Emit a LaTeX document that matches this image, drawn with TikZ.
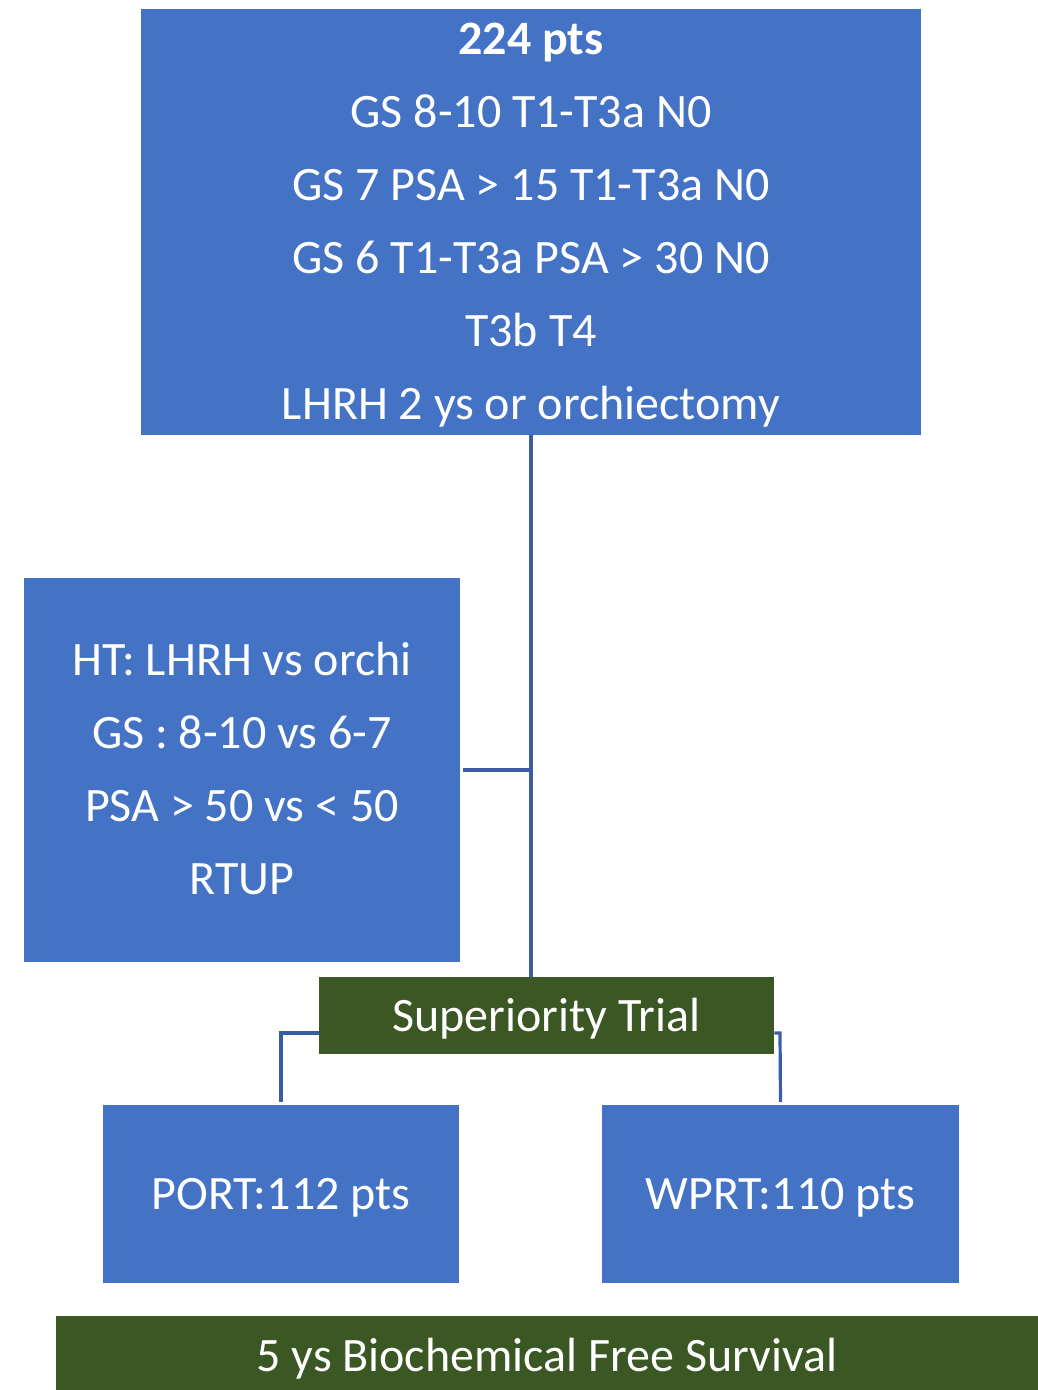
\documentclass[tikz,border=0pt]{standalone}
\usepackage{fontspec}
\setmainfont{Carlito}
\definecolor{boxblue}{HTML}{4472C4}
\definecolor{boxgreen}{HTML}{3A5724}
\definecolor{lineblue}{HTML}{3A5DA8}
\begin{document}
\begin{tikzpicture}[x=0.75pt,y=-0.75pt,
  bluebox/.style={fill=boxblue,draw=none,inner sep=0pt},
  greenbox/.style={fill=boxgreen,draw=none,inner sep=0pt},
  txt/.style={inner sep=0pt,text=white,align=center,
    font=\fontsize{36}{54.75}\selectfont},
  conn/.style={draw=lineblue,line width=2.4pt}]
\useasboundingbox (0,0) rectangle (1038,1390);
\node[bluebox,minimum width=780*0.75pt,minimum height=426*0.75pt] (top) at (531,222) {};
\node[txt,yshift=-2.6pt] (toptxt) at (top)
  {\textbf{224 pts}\\GS 8-10 T1-T3a N0\\GS 7 PSA > 15 T1-T3a N0\\GS 6 T1-T3a PSA > 30 N0\\T3b T4\\LHRH 2 ys or orchiectomy};
\node[bluebox,minimum width=436*0.75pt,minimum height=384*0.75pt] (strat) at (242,770) {};
\node[txt,yshift=1.4pt] (strattxt) at (strat)
  {HT: LHRH vs orchi\\GS : 8-10 vs 6-7\\PSA > 50 vs < 50\\RTUP};
\node[greenbox,minimum width=455*0.75pt,minimum height=77*0.75pt] (sup) at (546.5,1015.5) {};
\node[txt,yshift=-2.4pt] (suptxt) at (sup) {Superiority Trial};
\node[bluebox,minimum width=356*0.75pt,minimum height=178*0.75pt] (port) at (281,1194) {};
\node[txt,yshift=-3pt] (porttxt) at (port) {PORT:112 pts};
\node[bluebox,minimum width=357*0.75pt,minimum height=178*0.75pt] (wprt) at (780.5,1194) {};
\node[txt,yshift=-3pt] (wprttxt) at (wprt) {WPRT:110 pts};
\node[greenbox,minimum width=982*0.75pt,minimum height=74*0.75pt] (bfs) at (547,1353) {};
\node[txt,yshift=-4.5pt] (bfstxt) at (bfs) {5 ys Biochemical Free Survival};
\coordinate (j) at (531,770);
\coordinate (lc) at (281,1033);
\coordinate (rc) at (780,1033);
\draw[conn] (top.south -| j) -- (sup.north -| j);
\draw[conn] (463,770) -- (j);
\draw[conn] (sup.west |- lc) -- (lc) -- ([yshift=2pt]port.north);
\draw[conn] (sup.east |- rc) -- (rc) -- ([yshift=2pt]wprt.north);
\end{tikzpicture}
\end{document}
